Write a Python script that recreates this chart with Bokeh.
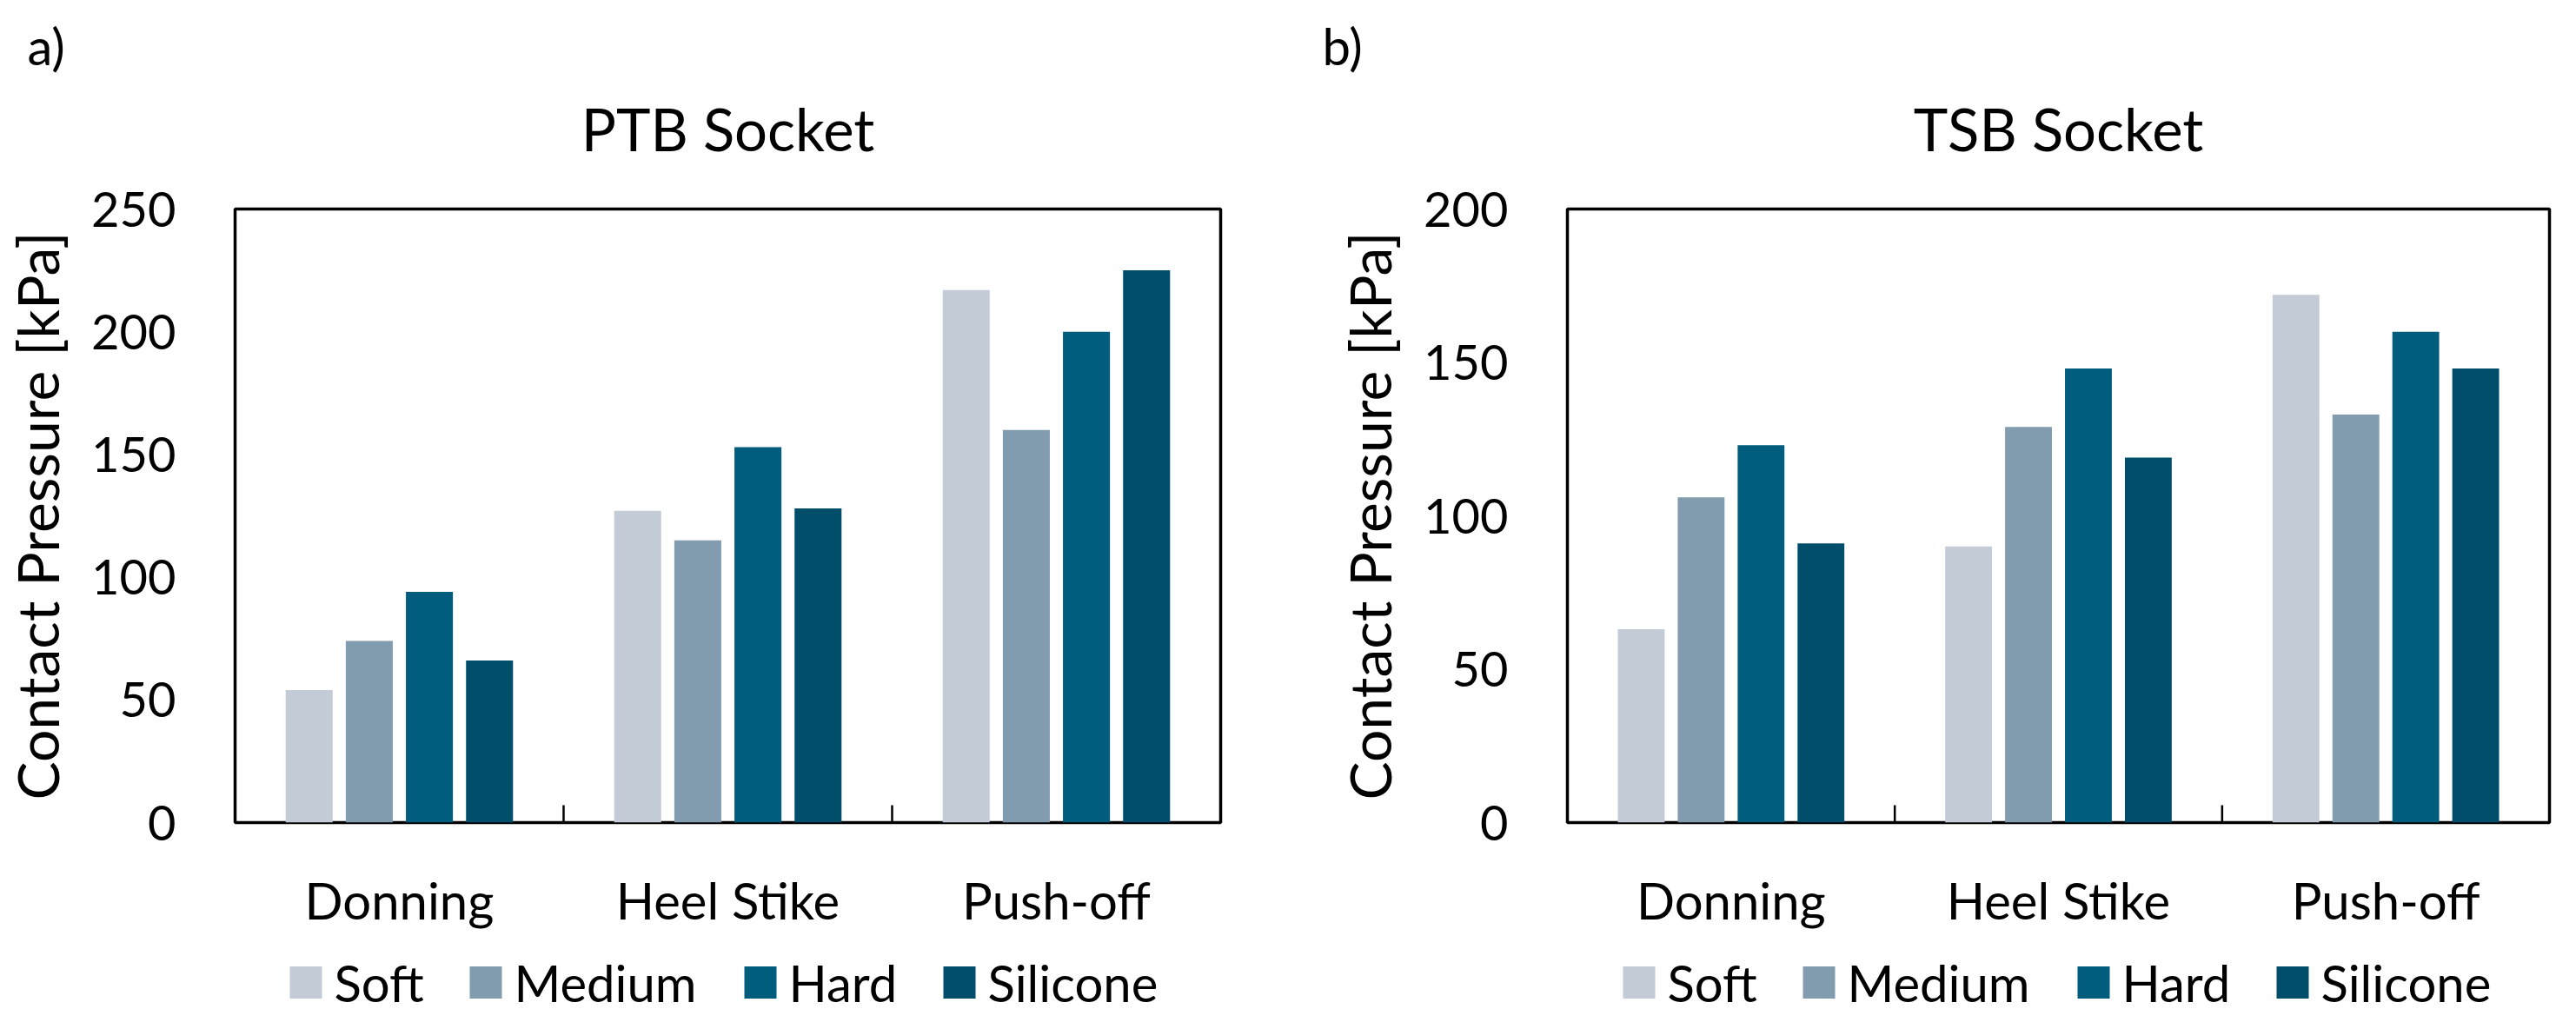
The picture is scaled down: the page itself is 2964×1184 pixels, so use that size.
from bokeh.plotting import figure
from bokeh.models import Range1d, FactorRange, FixedTicker, ColumnDataSource, Title
from bokeh.core.properties import value
from bokeh.transform import dodge
from bokeh.layouts import row, column
from bokeh.embed import file_html
from bokeh.resources import INLINE

phases = ["Donning", "Heel Stike", "Push-off"]
materials = ["Soft", "Medium", "Hard", "Silicone"]
colors = ["#C3CCD6", "#819BAF", "#005D7E", "#014E6B"]

ptb_soft = [54, 127, 217]
ptb_medium = [74, 115, 160]
ptb_hard = [94, 153, 200]
ptb_silicone = [66, 128, 225]

tsb_soft = [63, 90, 172]
tsb_medium = [106, 129, 133]
tsb_hard = [123, 148, 160]
tsb_silicone = [91, 119, 148]

ptb_ticks = [0, 50, 100, 150, 200, 250]
tsb_ticks = [0, 50, 100, 150, 200]

FONT = "Lato"
offsets = [-0.2745, -0.0915, 0.0915, 0.2745]
bar_w = 0.143
FRAME_H = 706
TOP = 240
BOTTOM = 140
LEG_H = 1168 - TOP - FRAME_H - BOTTOM

# legend layout (pixels): swatch size, swatch-text gap, estimated label widths, item gap
SW = 37
SW_GAP = 14
LABEL_W = [104, 213, 126, 198]
ITEM_GAP = 52


def make(title, letter, series, ticks, width, border_left, frame_w, border_right, title_offset):
    ymax = ticks[-1]
    p = figure(x_range=FactorRange(factors=phases), y_range=Range1d(0, ymax),
               frame_width=frame_w, frame_height=FRAME_H,
               min_border_left=border_left, min_border_right=border_right,
               min_border_top=TOP, min_border_bottom=BOTTOM,
               output_backend="svg", toolbar_location=None, title=None)
    p.width = width
    p.height = TOP + FRAME_H + BOTTOM
    data = {"phase": phases}
    for m, s in zip(materials, series):
        data[m] = s
    src = ColumnDataSource(data)
    for m, off, c in zip(materials, offsets, colors):
        p.vbar(x=dodge("phase", off, range=p.x_range), top=m, width=bar_w,
               source=src, fill_color=c, line_color=None)
    # category boundary ticks (inside, from the bottom)
    tick_len = 20 * ymax / FRAME_H
    bsrc = ColumnDataSource({"phase": phases[:-1],
                             "y0": [0] * (len(phases) - 1),
                             "y1": [tick_len] * (len(phases) - 1)})
    p.segment(x0=dodge("phase", 0.5, range=p.x_range), x1=dodge("phase", 0.5, range=p.x_range),
              y0="y0", y1="y1", source=bsrc, line_color="black", line_width=2.5)

    p.xgrid.grid_line_color = None
    p.ygrid.grid_line_color = None
    p.outline_line_color = "black"
    p.outline_line_width = 3.5
    p.background_fill_color = "white"
    p.border_fill_color = "white"

    p.yaxis.ticker = FixedTicker(ticks=ticks)
    p.yaxis.axis_line_color = None
    p.yaxis.major_tick_line_color = None
    p.yaxis.minor_tick_line_color = None
    p.yaxis.major_label_standoff = 62
    p.yaxis.major_label_text_font = FONT
    p.yaxis.major_label_text_font_size = "56px"
    p.yaxis.major_label_text_color = "black"
    p.yaxis.axis_label = "Contact Pressure [kPa]"
    p.yaxis.axis_label_text_font = FONT
    p.yaxis.axis_label_text_font_size = "66px"
    p.yaxis.axis_label_text_font_style = "normal"
    p.yaxis.axis_label_text_color = "black"
    p.yaxis.axis_label_standoff = 20

    p.xaxis.axis_line_color = None
    p.xaxis.major_tick_line_color = None
    p.xaxis.minor_tick_line_color = None
    p.xaxis.major_label_standoff = 48
    p.xaxis.major_label_text_font = FONT
    p.xaxis.major_label_text_font_size = "58px"
    p.xaxis.major_label_text_color = "black"

    spacer = Title(text=" ", text_font=FONT, text_font_size="10px", standoff=28)
    p.add_layout(spacer, "above")
    t = Title(text=title, align="center", offset=title_offset, text_font=FONT,
              text_font_size="67px", text_font_style="normal", text_color="black",
              standoff=22)
    p.add_layout(t, "above")
    t2 = Title(text=letter, align="left", offset=27 - border_left, text_font=FONT,
               text_font_size="58px", text_font_style="normal", text_color="black",
               standoff=16)
    p.add_layout(t2, "above")
    return p


def make_legend(width, border_left, frame_w, border_right, x_start):
    # legend strip below a chart; its frame lines up with the chart frame (1 unit = 1 px)
    lf = figure(width=width, height=LEG_H, frame_width=frame_w, frame_height=LEG_H,
                x_range=Range1d(0, frame_w), y_range=Range1d(0, LEG_H),
                min_border_left=border_left, min_border_right=border_right,
                min_border_top=0, min_border_bottom=0,
                x_axis_location=None, y_axis_location=None,
                output_backend="svg", toolbar_location=None, title=None)
    lf.outline_line_color = None
    lf.xgrid.grid_line_color = None
    lf.ygrid.grid_line_color = None
    lf.border_fill_color = "white"
    lf.background_fill_color = "white"
    xs, tx = [], []
    x = x_start
    for w in LABEL_W:
        xs.append(x + SW / 2)
        tx.append(x + SW + SW_GAP)
        x += SW + SW_GAP + w + ITEM_GAP
    yc = LEG_H - 44
    lsrc = ColumnDataSource({"x": xs, "tx": tx, "y": [yc] * len(materials),
                             "label": materials, "color": colors})
    lf.rect(x="x", y="y", width=SW, height=SW, source=lsrc,
            fill_color="color", line_color=None)
    lf.text(x="tx", y="y", text="label", source=lsrc, text_font=value(FONT),
            text_font_size=value("58px"), text_baseline="middle", text_align="left",
            text_color="black")
    return lf


p1 = make("PTB Socket", "a)", [ptb_soft, ptb_medium, ptb_hard, ptb_silicone], ptb_ticks,
          1490, 266, 1134, 90, -94)
p2 = make("TSB Socket", "b)", [tsb_soft, tsb_medium, tsb_hard, tsb_silicone], tsb_ticks,
          1458, 309, 1130, 19, -96)
l1 = make_legend(1490, 266, 1134, 90, 63)
l2 = make_legend(1458, 309, 1130, 19, 64)

layout = row(column(p1, l1, spacing=0), column(p2, l2, spacing=0), spacing=0)
open("out.html", "w").write(file_html(layout, INLINE))
